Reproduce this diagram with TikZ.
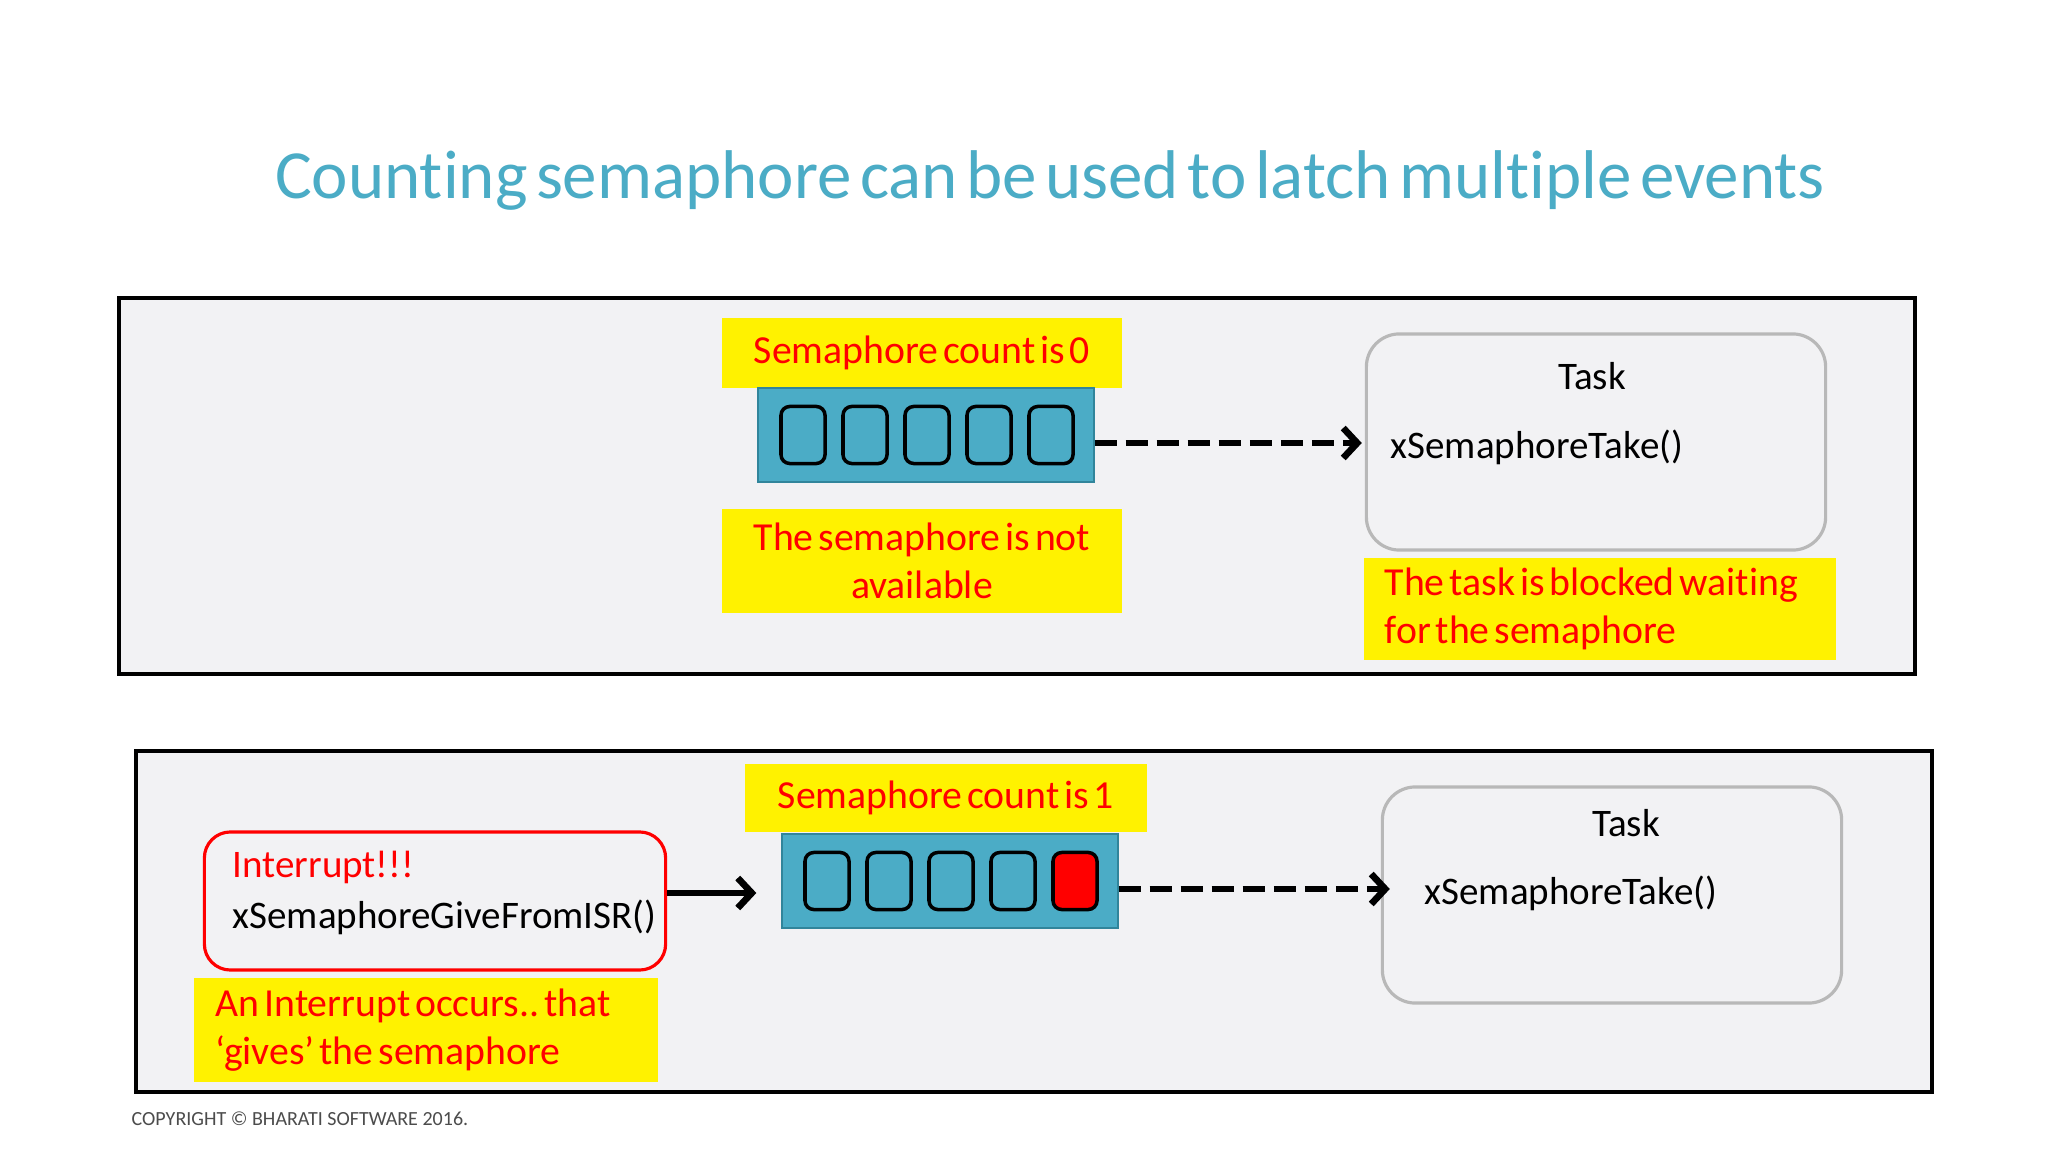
\documentclass[tikz,border=0pt]{standalone}
\usepackage{fontspec}
\setmainfont{Carlito}
\newfontfamily\notefont{Carlito}[Ligatures={NoCommon,TeX}, WordSpace=0.55]
\usepackage{xcolor}
\usetikzlibrary{arrows.meta, positioning}
\frenchspacing

\definecolor{titleblue}{RGB}{75,172,198}
\definecolor{qteal}{RGB}{75,172,198}
\definecolor{qedge}{RGB}{49,133,155}
\definecolor{panelgray}{RGB}{242,242,244}

% one line of a left-aligned note, with the font's own word space
\newcommand{\noteline}[1]{\mbox{\spaceskip=0pt\relax #1}}

\begin{document}
\begin{tikzpicture}[
  x=0.01cm, y=-0.01cm,
  panel/.style = {draw=black, line width=0.9pt, fill=panelgray},
  note/.style  = {fill=yellow, text=red, inner ysep=0pt,
                  font=\notefont\fontsize{11.3}{13.6}\selectfont},
  queue/.style = {draw=qedge, fill=qteal, line width=0.6pt,
                  minimum width=3.35cm, minimum height=0.94cm},
  cell/.style  = {draw=black, line width=1pt, rounded corners=2.5pt,
                  minimum width=0.44cm, minimum height=0.57cm, inner sep=0pt},
  task/.style  = {draw=black!28, line width=0.9pt, rounded corners=0.33cm,
                  minimum width=4.59cm, minimum height=2.16cm},
  code/.style  = {font=\fontsize{11.1}{13}\selectfont, inner sep=0pt},
  dasharr/.style = {-{Straight Barb[length=0.14cm, width=0.3cm]}, line width=1.9pt,
                    dash pattern=on 0.22cm off 0.09cm},
  arr/.style   = {-{Straight Barb[length=0.14cm, width=0.3cm]}, line width=1.9pt}
]
  \fill[white] (0,0) rectangle (2048,1152);
  \useasboundingbox (0,0) rectangle (2048,1152);

  \node[text=titleblue, font=\notefont\fontsize{19.6}{23}\selectfont] (title) at (1050,180)
    {Counting semaphore can be used to latch multiple events};

  % top: count is 0, task blocked
  \draw[panel] (119,298) rectangle (1915,674);
  \node[note, minimum width=4cm, minimum height=0.7cm] (cnt0) at (922,353) {Semaphore count is 0};
  \node[queue] (q0) at (926,435) {};
  \foreach \i in {0,...,4}
    \node[cell] (c0\i) at (803+62*\i,435) {};
  \node[note, minimum width=4cm, minimum height=1.04cm, align=center] (na0) at (922,561)
    {The semaphore is not\\available};

  \node[task] (t0) at (1596,442) {};
  \node[code] (tn0) at (1592,376) {Task};
  \node[code, anchor=west] (tk0) at (1390,447) {xSemaphoreTake()};
  \node[note, anchor=west, text width=4.3cm, inner xsep=0.21cm, minimum height=1.02cm,
        align=left] (blk) at (1363,609)
    {\noteline{The task is blocked waiting}\\\noteline{for the semaphore}};

  \draw[dasharr] ([yshift=-0.08cm]q0.east) -- ([yshift=-0.08cm,xshift=-0.03cm]q0.east -| t0.west);

  % bottom: interrupt gives the semaphore
  \draw[panel] (136,751) rectangle (1932,1092);
  \node[note, minimum width=4.01cm, minimum height=0.68cm] (cnt1) at (946,798) {Semaphore count is 1};
  \node[queue] (q1) at (950,881) {};
  \foreach \i in {0,...,3}
    \node[cell] (c1\i) at (827+62*\i,881) {};
  \node[cell, fill=red] (c14) at (1075,881) {};

  \node[task] (t1) at (1612,895) {};
  \node[code] (tn1) at (1626,823) {Task};
  \node[code, anchor=west] (tk1) at (1424,893) {xSemaphoreTake()};

  \node[draw=red, line width=0.9pt, rounded corners=0.26cm, minimum width=4.61cm,
        minimum height=1.38cm] (isr) at (435,901) {};
  \node[code, text=red, anchor=west] (irq) at (232,867) {Interrupt!!!};
  \node[code, anchor=west] (give) at (232,917) {xSemaphoreGiveFromISR()};
  \node[note, anchor=west, text width=4.2cm, inner xsep=0.22cm, minimum height=1.03cm,
        align=left] (occ) at (193,1030)
    {\noteline{An Interrupt occurs.. that}\\\noteline{‘gives’ the semaphore}};

  \draw[arr, shorten >=0.25cm] ([yshift=0.08cm]isr.east) -- ([yshift=0.08cm]isr.east -| q1.west);
  \draw[dasharr] ([yshift=-0.08cm]q1.east) -- ([yshift=-0.08cm,xshift=0.09cm]q1.east -| t1.west);

  \node[anchor=west, text=black!70, font=\fontsize{5.7}{7}\selectfont, inner sep=0pt] (copy)
    at (131,1119) {COPYRIGHT © BHARATI SOFTWARE 2016.};
\end{tikzpicture}
\end{document}
